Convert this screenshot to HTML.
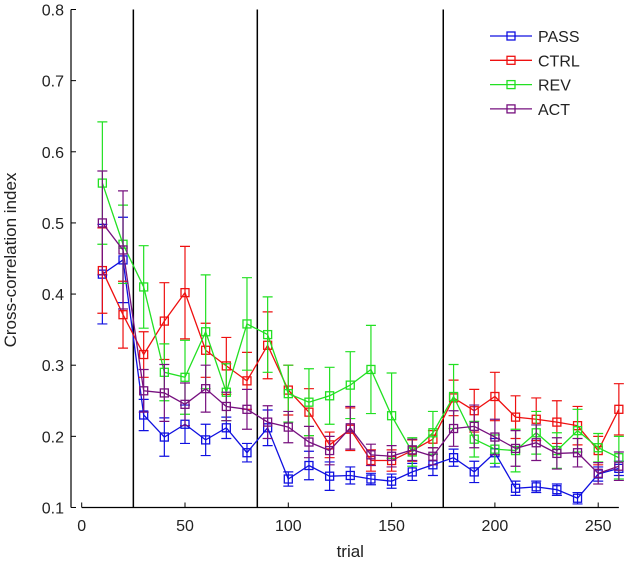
<!DOCTYPE html>
<html><head><meta charset="utf-8"><style>
body{margin:0;background:#fff}
svg text{font-family:"Liberation Sans",sans-serif;fill:#222}
</style></head><body>
<svg id="chart" width="625" height="560" xmlns="http://www.w3.org/2000/svg"></svg>
<script>
const trials=[10,20,30,40,50,60,70,80,90,100,110,120,130,140,150,160,170,180,190,200,210,220,230,240,250,260];
const passVals=[0.428,0.448,0.230,0.199,0.217,0.195,0.212,0.177,0.212,0.140,0.159,0.144,0.145,0.140,0.137,0.150,0.160,0.170,0.150,0.177,0.127,0.129,0.125,0.113,0.147,0.155];
const passErr=[0.07,0.06,0.022,0.027,0.027,0.022,0.015,0.013,0.025,0.01,0.02,0.02,0.012,0.008,0.01,0.012,0.015,0.012,0.015,0.02,0.01,0.008,0.008,0.008,0.01,0.01];
const ctrlVals=[0.433,0.371,0.315,0.362,0.402,0.321,0.299,0.278,0.328,0.265,0.234,0.188,0.210,0.166,0.166,0.180,0.196,0.254,0.236,0.256,0.227,0.224,0.220,0.215,0.180,0.238];
const ctrlErr=[0.06,0.047,0.032,0.054,0.065,0.038,0.04,0.04,0.047,0.035,0.033,0.018,0.03,0.015,0.015,0.015,0.012,0.025,0.03,0.034,0.03,0.03,0.03,0.027,0.02,0.036];
const revVals=[0.556,0.470,0.410,0.290,0.283,0.347,0.262,0.358,0.343,0.260,0.248,0.257,0.272,0.294,0.229,0.178,0.205,0.256,0.196,0.182,0.180,0.205,0.180,0.208,0.184,0.170];
const revErr=[0.086,0.055,0.058,0.04,0.052,0.08,0.04,0.065,0.053,0.04,0.047,0.04,0.047,0.062,0.06,0.02,0.03,0.045,0.025,0.02,0.03,0.03,0.025,0.03,0.02,0.03];
const actVals=[0.500,0.462,0.264,0.261,0.245,0.267,0.242,0.238,0.220,0.213,0.192,0.180,0.212,0.174,0.172,0.181,0.172,0.211,0.214,0.199,0.183,0.191,0.176,0.177,0.148,0.158];
const actErr=[0.073,0.083,0.03,0.04,0.03,0.033,0.02,0.028,0.023,0.022,0.022,0.02,0.03,0.015,0.015,0.015,0.012,0.025,0.03,0.025,0.025,0.025,0.022,0.02,0.015,0.02];
const xTicks=[0,50,100,150,200,250];
const yTicks=[0.1,0.2,0.3,0.4,0.5,0.6,0.7,0.8];
const phaseBounds=[25,85,175];
const seriesNames=["PASS","CTRL","REV","ACT"];

const NS="http://www.w3.org/2000/svg";
const svg=document.getElementById('chart');
const X=v=>81.7+v*2.066;
const Y=v=>9.5+(0.8-v)*711.4;
const AX=Y(0.1);
function mk(t,a,parent){const e=document.createElementNS(NS,t);for(const k in a)e.setAttribute(k,a[k]);(parent||svg).appendChild(e);return e;}

let e=mk('line',{x1:71,y1:Y(0.8),x2:71,y2:AX,stroke:'#000','stroke-width':1.2});


e=mk('line',{x1:X(0),y1:AX,x2:X(260),y2:AX,stroke:'#000','stroke-width':1.2});


yTicks.forEach(v=>{
  mk('line',{x1:71,y1:Y(v),x2:76,y2:Y(v),stroke:'#000'});
  const t=mk('text',{x:64,y:Y(v)+6,'text-anchor':'end','font-size':16});t.textContent=v.toFixed(1);
  
  
});
xTicks.forEach(v=>{
  mk('line',{x1:X(v),y1:AX,x2:X(v),y2:AX-5,stroke:'#000'});
  const t=mk('text',{x:X(v),y:531,'text-anchor':'middle','font-size':16});t.textContent=v;
  
  
});
e=mk('text',{x:X(130),y:557,'text-anchor':'middle','font-size':17});e.textContent='trial';


e=mk('text',{x:0,y:0,'text-anchor':'middle','font-size':17,transform:'translate(16,260) rotate(-90)'});e.textContent='Cross-correlation index';


phaseBounds.forEach(b=>{
  const l=mk('line',{x1:X(b),y1:Y(0.8),x2:X(b),y2:AX,stroke:'#000','stroke-width':1.5});
  
  
});

const series=[[passVals,passErr,'#1010e0'],[ctrlVals,ctrlErr,'#ee1010'],[revVals,revErr,'#22e022'],[actVals,actErr,'#77107f']];
series.forEach(([vals,errs,c],si)=>{
  const g=mk('g',{});
  
  
  mk('polyline',{points:vals.map((v,i)=>X(trials[i])+','+Y(v)).join(' '),fill:'none',stroke:c,'stroke-width':1.3},g);
  vals.forEach((v,i)=>{
    const x=X(trials[i]),t=Y(v+errs[i]),b=Y(v-errs[i]);
    mk('path',{d:`M${x},${t}V${b}M${x-5},${t}H${x+5}M${x-5},${b}H${x+5}`,stroke:c,'stroke-width':1.2,fill:'none'},g);
    const r=mk('rect',{x:x-4,y:Y(v)-4,width:8,height:8,fill:'none',stroke:c,'stroke-width':1.3},g);
    
    
  });
});
series.forEach(([v,er,c],i)=>{
  const y=36+i*24.3;
  const g=mk('g',{});
  
  
  mk('line',{x1:490,y1:y,x2:532,y2:y,stroke:c,'stroke-width':1.3},g);
  mk('rect',{x:507,y:y-4,width:8,height:8,fill:'none',stroke:c,'stroke-width':1.3},g);
  const t=mk('text',{x:538,y:y+6,'font-size':16},g);t.textContent=seriesNames[i];
});
</script>
</body></html>
